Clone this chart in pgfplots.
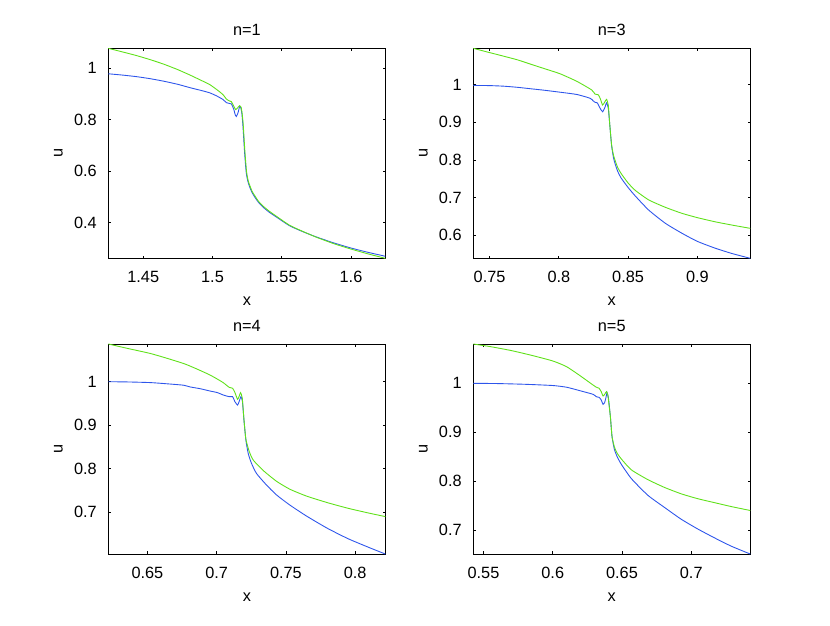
\documentclass[border=0pt]{standalone}
\usepackage{pgfplots}
\pgfplotsset{compat=1.18}
\usepackage{fontspec}
\setmainfont{Liberation Sans}
\definecolor{cblue}{RGB}{45,85,235}
\definecolor{cgreen}{RGB}{95,225,25}
\newcommand{\ff}{\fontsize{11}{13}\selectfont}
\pgfplotsset{
  panel/.style={
    scale only axis, width=186.9pt, height=141.7pt, anchor=south west,
    /pgf/number format/assume math mode=true,
    axis line style={line width=0.5pt},
    every tick/.style={black, line width=0.5pt},
    major tick length=1.8pt, tick align=inside,
    xtick pos=both, ytick pos=both,
    xlabel={x}, ylabel={u},
    tick label style={font=\ff},
    label style={font=\ff},
    xlabel style={at={(axis description cs:0.5,-0.16)}, anchor=north},
    ylabel style={at={(axis description cs:-0.1803,0.5)}, anchor=center},
    title style={font=\ff, at={(axis description cs:0.5,1.038)}, anchor=south, yshift=-6.5pt},
    xticklabel style={yshift=-5.3pt},
    yticklabel style={xshift=-4.3pt},
  },
  bl/.style={cblue, line width=0.6pt, mark=none, smooth, tension=0.35},
  gr/.style={cgreen, line width=0.6pt, mark=none, smooth, tension=0.35},
}
\begin{document}
\begin{tikzpicture}
\path[use as bounding box] (0,0) rectangle (560pt,421.7pt);
% n=1
\begin{axis}[panel, at={(73.1pt,247.4pt)}, title={n=1},
  xmin=1.4248, xmax=1.6248, ymin=0.262, ymax=1.078,
  xtick={1.45,1.5,1.55,1.6}, ytick={0.4,0.6,0.8,1}]
\addplot[bl] coordinates {(1.4248,0.979)(1.435,0.974)(1.445,0.968)(1.455,0.960)(1.465,0.950)(1.475,0.938)(1.4838,0.925)(1.492,0.914)(1.498,0.905)(1.503,0.893)(1.5076,0.879)(1.510,0.867)(1.512,0.864)(1.5136,0.862)(1.5153,0.842)(1.5165,0.818)(1.5172,0.813)(1.5184,0.827)(1.5196,0.852)(1.5204,0.848)(1.5212,0.825)(1.522,0.775)(1.5232,0.671)(1.5244,0.593)(1.5256,0.560)(1.5268,0.540)(1.5285,0.518)(1.5304,0.501)(1.533,0.481)(1.5363,0.462)(1.541,0.441)(1.546,0.423)(1.5555,0.389)(1.565,0.366)(1.575,0.345)(1.5875,0.322)(1.6,0.302)(1.6125,0.285)(1.6248,0.270)};
\addplot[gr] coordinates {(1.4248,1.078)(1.435,1.064)(1.445,1.050)(1.455,1.034)(1.465,1.016)(1.475,0.995)(1.4838,0.974)(1.492,0.953)(1.498,0.937)(1.503,0.918)(1.5076,0.898)(1.510,0.881)(1.512,0.874)(1.5136,0.871)(1.5153,0.854)(1.5167,0.840)(1.518,0.846)(1.5196,0.855)(1.5206,0.850)(1.5214,0.825)(1.5222,0.780)(1.5234,0.676)(1.5246,0.598)(1.5258,0.563)(1.527,0.544)(1.5287,0.521)(1.5306,0.505)(1.533,0.485)(1.5363,0.466)(1.541,0.445)(1.546,0.426)(1.5555,0.391)(1.565,0.367)(1.575,0.344)(1.5875,0.319)(1.6,0.298)(1.6125,0.279)(1.6248,0.262)};
\end{axis}
% n=3
\begin{axis}[panel, at={(319.3pt,247.4pt)}, title={n=3},
  xmin=0.7382, xmax=0.9382, ymin=0.539, ymax=1.0965,
  xtick={0.75,0.8,0.85,0.9}, ytick={0.6,0.7,0.8,0.9,1}]
\addplot[bl] coordinates {(0.7382,0.998)(0.75,0.9975)(0.76,0.996)(0.77,0.993)(0.78,0.989)(0.79,0.985)(0.8008,0.980)(0.8129,0.974)(0.8225,0.964)(0.8248,0.957)(0.8262,0.953)(0.8277,0.952)(0.8297,0.938)(0.8316,0.928)(0.8333,0.940)(0.8345,0.952)(0.8357,0.937)(0.8369,0.888)(0.8381,0.838)(0.8395,0.805)(0.8408,0.788)(0.8425,0.770)(0.845,0.752)(0.85,0.727)(0.8553,0.704)(0.8649,0.667)(0.8769,0.632)(0.8889,0.6055)(0.9,0.584)(0.9128,0.566)(0.9248,0.552)(0.9382,0.539)};
\addplot[gr] coordinates {(0.7382,1.0965)(0.748,1.087)(0.7576,1.078)(0.77,1.066)(0.7816,1.052)(0.79,1.042)(0.8008,1.029)(0.8129,1.009)(0.8237,0.986)(0.8261,0.975)(0.8285,0.973)(0.830,0.962)(0.8316,0.946)(0.8333,0.955)(0.8345,0.961)(0.8357,0.945)(0.8369,0.888)(0.8381,0.840)(0.8395,0.812)(0.8408,0.797)(0.8425,0.780)(0.845,0.764)(0.85,0.739)(0.8553,0.719)(0.8649,0.694)(0.8769,0.6744)(0.8889,0.6584)(0.9,0.647)(0.9128,0.636)(0.9248,0.6274)(0.9382,0.6186)};
\end{axis}
% n=4
\begin{axis}[panel, at={(73.1pt,47.9pt)}, title={n=4},
  xmin=0.6218, xmax=0.8218, ymin=0.604, ymax=1.0867,
  xtick={0.65,0.7,0.75,0.8}, ytick={0.7,0.8,0.9,1}]
\addplot[bl] coordinates {(0.6218,1.0)(0.635,0.9995)(0.652,0.998)(0.665,0.995)(0.676,0.992)(0.6808,0.988)(0.688,0.984)(0.6952,0.9786)(0.7005,0.975)(0.7048,0.9694)(0.7091,0.9656)(0.7115,0.9656)(0.7132,0.954)(0.7151,0.9464)(0.7163,0.955)(0.7175,0.9655)(0.7186,0.955)(0.7197,0.912)(0.7211,0.866)(0.7228,0.835)(0.7252,0.812)(0.7288,0.789)(0.736,0.7625)(0.7433,0.7396)(0.7528,0.7166)(0.765,0.691)(0.78,0.663)(0.795,0.639)(0.81,0.619)(0.8218,0.604)};
\addplot[gr] coordinates {(0.6218,1.0867)(0.635,1.077)(0.652,1.065)(0.665,1.053)(0.676,1.042)(0.6808,1.036)(0.688,1.026)(0.6952,1.0154)(0.7005,1.006)(0.7048,0.9977)(0.7091,0.987)(0.7115,0.985)(0.7132,0.975)(0.7151,0.9595)(0.7163,0.967)(0.7173,0.9747)(0.7185,0.962)(0.7197,0.914)(0.7211,0.868)(0.7235,0.840)(0.7264,0.820)(0.7336,0.796)(0.7433,0.771)(0.7528,0.753)(0.765,0.737)(0.78,0.722)(0.795,0.709)(0.81,0.698)(0.8218,0.690)};
\end{axis}
% n=5
\begin{axis}[panel, at={(319.3pt,47.9pt)}, title={n=5},
  xmin=0.5426, xmax=0.7426, ymin=0.651, ymax=1.0804,
  xtick={0.55,0.6,0.65,0.7}, ytick={0.7,0.8,0.9,1}]
\addplot[bl] coordinates {(0.5426,1.0)(0.56,0.9995)(0.58,0.998)(0.60,0.9955)(0.61,0.992)(0.6195,0.985)(0.6291,0.9775)(0.6315,0.9726)(0.6334,0.9713)(0.635,0.966)(0.6363,0.957)(0.6375,0.961)(0.6385,0.972)(0.6392,0.981)(0.6402,0.970)(0.6416,0.932)(0.6428,0.891)(0.6445,0.865)(0.6465,0.850)(0.6496,0.834)(0.6568,0.805)(0.6687,0.771)(0.6808,0.746)(0.6928,0.722)(0.7048,0.702)(0.7168,0.684)(0.7289,0.667)(0.7426,0.651)};
\addplot[gr] coordinates {(0.5426,1.0804)(0.555,1.075)(0.57,1.067)(0.585,1.057)(0.60,1.0457)(0.61,1.034)(0.6195,1.016)(0.6291,0.9965)(0.6315,0.992)(0.6334,0.990)(0.635,0.983)(0.6363,0.974)(0.6376,0.978)(0.6388,0.983)(0.6398,0.975)(0.6416,0.932)(0.6428,0.891)(0.6445,0.870)(0.6465,0.857)(0.6496,0.845)(0.6568,0.823)(0.6687,0.803)(0.6808,0.787)(0.6928,0.774)(0.7048,0.764)(0.7168,0.756)(0.7289,0.748)(0.7426,0.740)};
\end{axis}
\end{tikzpicture}
\end{document}
